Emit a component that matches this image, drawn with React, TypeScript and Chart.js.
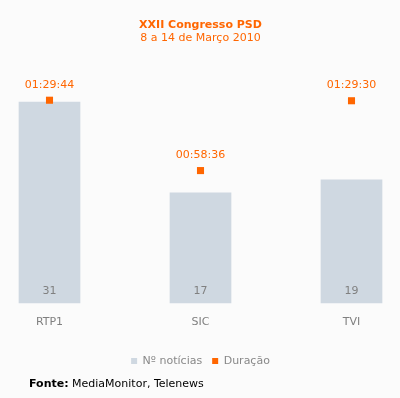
import React, { useEffect, useRef } from "react";
import { Chart, registerables } from "chart.js";

Chart.register(...registerables);

const categories = ["RTP1", "SIC", "TVI"];
const newsCounts = [31, 17, 19];
const durationSeconds = [5384, 3516, 5370]; // 01:29:44, 00:58:36, 01:29:30
const titleText = "XXII Congresso PSD";
const subtitleText = "8 a 14 de Março 2010";
const seriesNames = ["Nº notícias", "Duração"];
const sourceLabel = "Fonte:";
const sourceText = " MediaMonitor, Telenews";

const FONT = '"DejaVu Sans", Verdana, sans-serif';
const ORANGE = "#ff6600";
const BAR = "#cfd8e1";
const BG = "#fbfbfb";

function fmt(sec: number): string {
  const h = Math.floor(sec / 3600);
  const m = Math.floor((sec % 3600) / 60);
  const s = sec % 60;
  const p = (n: number) => String(n).padStart(2, "0");
  return `${p(h)}:${p(m)}:${p(s)}`;
}

const labelPlugin = {
  id: "customLabels",
  beforeDraw(chart: any) {
    const { ctx, width, height } = chart;
    ctx.save();
    ctx.fillStyle = BG;
    ctx.fillRect(0, 0, width, height);
    ctx.restore();
  },
  afterDatasetsDraw(chart: any) {
    const ctx = chart.ctx;
    ctx.save();
    ctx.font = `11px ${FONT}`;
    ctx.textAlign = "center";
    ctx.textBaseline = "middle";
    const barMeta = chart.getDatasetMeta(0);
    barMeta.data.forEach((el: any, i: number) => {
      ctx.fillStyle = "#808080";
      ctx.fillText(String(newsCounts[i]), el.x, el.base - 11.5);
    });
    const ptMeta = chart.getDatasetMeta(1);
    ptMeta.data.forEach((el: any, i: number) => {
      ctx.fillStyle = ORANGE;
      ctx.fillText(fmt(durationSeconds[i]), el.x, el.y - 15.5);
    });
    ctx.restore();
  },
  afterDraw(chart: any) {
    const ctx = chart.ctx;
    ctx.save();
    ctx.textAlign = "left";
    ctx.textBaseline = "middle";
    ctx.fillStyle = "#000";
    ctx.font = `bold 11px ${FONT}`;
    const x0 = 29;
    const y0 = 384;
    ctx.fillText(sourceLabel, x0, y0);
    const w = ctx.measureText(sourceLabel).width;
    ctx.font = `11px ${FONT}`;
    ctx.fillText(sourceText, x0 + w, y0);
    ctx.restore();
  },
};

export default function App() {
  const ref = useRef<HTMLCanvasElement | null>(null);
  useEffect(() => {
    if (!ref.current) return;
    const chart = new Chart(ref.current, {
      type: "bar",
      data: {
        labels: categories,
        datasets: [
          {
            type: "bar",
            label: seriesNames[0],
            data: newsCounts,
            backgroundColor: BAR,
            borderWidth: 0,
            barThickness: 61,
            yAxisID: "y",
            order: 1,
            clip: false as any,
          },
          {
            type: "line",
            label: seriesNames[1],
            data: durationSeconds,
            showLine: false,
            pointStyle: "rect",
            pointRadius: 5,
            pointHoverRadius: 5,
            pointBorderWidth: 0,
            borderWidth: 0,
            backgroundColor: ORANGE,
            borderColor: ORANGE,
            pointBackgroundColor: ORANGE,
            yAxisID: "y2",
            order: 0,
            clip: false as any,
          } as any,
        ],
      },
      options: {
        responsive: false,
        animation: false,
        layout: { padding: { left: 49.5, right: 48.5, top: 0, bottom: 21.5 } },
        plugins: {
          tooltip: { enabled: false },
          title: {
            display: true,
            text: titleText,
            color: ORANGE,
            font: { family: FONT, size: 11, weight: "bold" },
            padding: { top: 18.4, bottom: 0 },
          },
          subtitle: {
            display: true,
            text: subtitleText,
            color: ORANGE,
            font: { family: FONT, size: 11 },
            padding: { top: 0, bottom: 15.2 },
          },
          legend: {
            position: "bottom",
            labels: {
              boxWidth: 6,
              boxHeight: 6,
              color: "#888888",
              font: { family: FONT, size: 11 },
              padding: 10,
              sort: (a: any, b: any) => a.datasetIndex - b.datasetIndex,
            },
          },
        },
        scales: {
          x: {
            offset: false,
            grid: { display: false, drawTicks: false },
            border: { display: false },
            ticks: {
              color: "#808080",
              font: { family: FONT, size: 11 },
              padding: 13,
            },
            afterFit: (scale: any) => {
              scale.height += 3.3;
            },
          },
          y: {
            display: false,
            min: 0,
            max: 37.5,
          },
          y2: {
            display: false,
            min: 0,
            max: 6452,
          },
        },
      },
      plugins: [labelPlugin],
    });
    return () => chart.destroy();
  }, []);
  return (
    <div style={{ position: "absolute", left: 0, top: 0, width: 400, height: 398, background: BG }}>
      <canvas ref={ref} width={400} height={398} />
    </div>
  );
}
